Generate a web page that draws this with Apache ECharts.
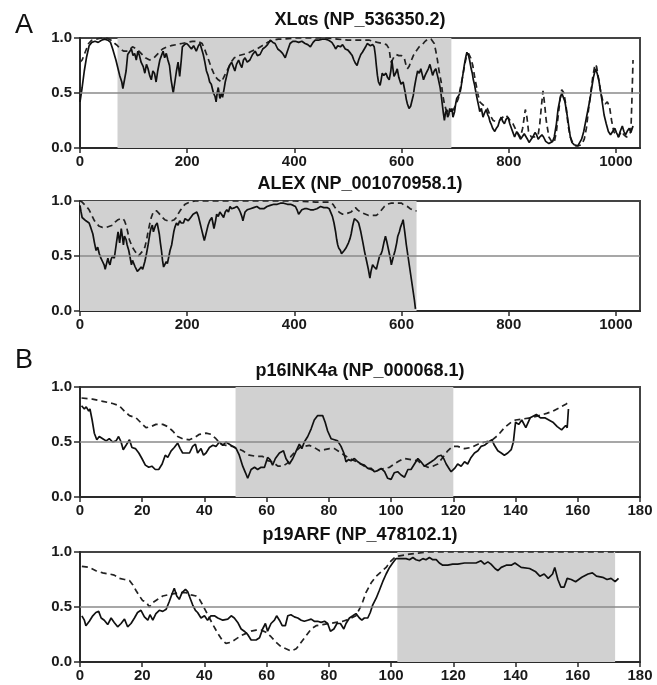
<!DOCTYPE html>
<html>
<head>
<meta charset="utf-8">
<script src="https://cdn.jsdelivr.net/npm/echarts@6/dist/echarts.min.js"></script>
<style>html,body{margin:0;padding:0;background:#fff}#c{width:657px;height:685px}</style>
</head>
<body>
<div id="c"></div>
<script>
// ---------- data ----------
const panelTitles = ['XLαs (NP_536350.2)', 'ALEX (NP_001070958.1)', 'p16INK4a (NP_000068.1)', 'p19ARF (NP_478102.1)'];
const panelLetters = ['A', 'B'];
const xTicksA = [0, 200, 400, 600, 800, 1000];
const xTicksB = [0, 20, 40, 60, 80, 100, 120, 140, 160, 180];
const yTicks = [0, 0.5, 1.0];
const shadeXlas = [70, 693];
const shadeAlex = [0, 628];
const shadeP16 = [50, 120];
const shadeP19 = [102, 172];
const refLine = 0.5;

const xlasSolid = [[0,0.42],[4,0.55],[8,0.70],[12,0.82],[17,0.93],[22,0.96],[28,0.97],[34,0.96],[40,0.98],[46,0.99],[52,0.98],[57,0.96],[61,0.90],[67,0.80],[71,0.72],[74,0.66],[78,0.60],[80,0.54],[83,0.53],[86,0.70],[89,0.85],[93,0.88],[96,0.90],[99,0.84],[102,0.86],[105,0.80],[108,0.88],[111,0.84],[114,0.78],[118,0.74],[121,0.68],[124,0.76],[127,0.72],[130,0.66],[133,0.62],[136,0.70],[139,0.68],[142,0.60],[145,0.70],[149,0.80],[152,0.84],[155,0.88],[158,0.82],[161,0.86],[164,0.80],[167,0.75],[170,0.62],[174,0.50],[177,0.60],[180,0.70],[183,0.78],[186,0.65],[189,0.80],[191,0.92],[195,0.94],[199,0.95],[203,0.93],[208,0.90],[212,0.93],[217,0.88],[221,0.93],[224,0.95],[227,0.90],[230,0.85],[233,0.78],[236,0.70],[239,0.66],[242,0.60],[245,0.58],[249,0.50],[252,0.47],[254,0.42],[256,0.50],[258,0.55],[261,0.45],[264,0.50],[266,0.46],[269,0.54],[271,0.60],[274,0.66],[277,0.72],[280,0.76],[283,0.78],[286,0.74],[289,0.70],[292,0.76],[296,0.80],[299,0.76],[302,0.73],[305,0.80],[308,0.82],[312,0.78],[317,0.80],[322,0.85],[327,0.88],[331,0.84],[336,0.85],[341,0.90],[346,0.92],[350,0.94],[355,0.98],[360,0.96],[364,0.95],[369,0.90],[374,0.88],[378,0.86],[383,0.82],[387,0.88],[392,0.95],[397,0.97],[402,0.97],[408,0.96],[414,0.97],[420,0.95],[425,0.94],[430,0.92],[435,0.96],[439,0.98],[445,0.98],[452,0.99],[458,0.99],[464,0.98],[470,0.96],[474,0.93],[477,0.90],[481,0.93],[486,0.92],[490,0.94],[495,0.90],[500,0.89],[505,0.86],[508,0.84],[511,0.80],[514,0.77],[517,0.75],[520,0.80],[524,0.85],[527,0.87],[530,0.88],[533,0.92],[536,0.95],[539,0.94],[542,0.93],[546,0.94],[549,0.92],[551,0.85],[553,0.75],[555,0.66],[557,0.60],[560,0.57],[562,0.62],[564,0.68],[567,0.66],[571,0.68],[574,0.64],[577,0.62],[580,0.70],[582,0.80],[584,0.72],[586,0.65],[589,0.68],[592,0.72],[595,0.64],[599,0.58],[603,0.60],[605,0.55],[607,0.50],[609,0.44],[611,0.40],[614,0.36],[617,0.38],[619,0.42],[622,0.48],[624,0.55],[627,0.63],[630,0.70],[633,0.68],[636,0.72],[639,0.66],[641,0.62],[644,0.66],[646,0.68],[650,0.72],[653,0.76],[656,0.70],[658,0.66],[661,0.70],[664,0.72],[667,0.66],[669,0.62],[672,0.55],[674,0.48],[676,0.40],[678,0.32],[680,0.25],[682,0.32],[684,0.35],[686,0.28],[688,0.30],[690,0.36],[692,0.33],[694,0.36],[696,0.28],[699,0.33],[701,0.40],[703,0.45],[705,0.44],[707,0.48],[709,0.50],[711,0.55],[714,0.65],[717,0.75],[720,0.83],[722,0.87],[725,0.84],[727,0.80],[730,0.72],[732,0.68],[734,0.62],[736,0.58],[739,0.50],[741,0.45],[744,0.38],[746,0.33],[749,0.36],[752,0.28],[755,0.32],[758,0.35],[761,0.30],[763,0.28],[765,0.24],[767,0.22],[770,0.18],[774,0.15],[777,0.18],[780,0.20],[783,0.25],[786,0.28],[789,0.24],[792,0.22],[795,0.26],[799,0.28],[802,0.22],[805,0.18],[808,0.14],[811,0.10],[815,0.15],[818,0.12],[822,0.08],[825,0.10],[829,0.13],[832,0.12],[835,0.08],[838,0.05],[842,0.08],[845,0.10],[849,0.14],[852,0.12],[855,0.08],[858,0.10],[862,0.12],[865,0.10],[869,0.06],[872,0.05],[875,0.04],[878,0.03],[882,0.06],[885,0.10],[889,0.22],[892,0.35],[896,0.45],[899,0.50],[902,0.46],[905,0.42],[909,0.30],[912,0.20],[915,0.10],[918,0.05],[922,0.03],[925,0.02],[929,0.02],[932,0.03],[936,0.08],[940,0.15],[944,0.25],[948,0.35],[952,0.45],[955,0.55],[958,0.64],[962,0.72],[965,0.68],[968,0.62],[972,0.50],[975,0.40],[978,0.30],[982,0.22],[986,0.15],[990,0.12],[994,0.15],[998,0.18],[1001,0.14],[1005,0.10],[1008,0.15],[1012,0.20],[1015,0.15],[1018,0.12],[1022,0.16],[1025,0.18],[1028,0.14],[1032,0.20]];

const xlasDashed = [[0,0.78],[4,0.80],[8,0.85],[12,0.90],[16,0.95],[22,0.98],[30,0.99],[40,1.0],[50,1.0],[58,0.98],[65,0.95],[70,0.93],[75,0.90],[82,0.88],[90,0.88],[98,0.92],[106,0.90],[114,0.86],[122,0.82],[130,0.80],[138,0.82],[146,0.86],[154,0.90],[162,0.92],[170,0.93],[180,0.94],[190,0.95],[200,0.96],[210,0.97],[220,0.97],[228,0.95],[234,0.88],[240,0.80],[246,0.72],[252,0.65],[258,0.62],[264,0.60],[270,0.66],[276,0.72],[282,0.78],[288,0.82],[296,0.84],[304,0.85],[312,0.86],[320,0.88],[330,0.90],[340,0.93],[350,0.96],[360,0.98],[370,0.99],[380,0.99],[400,1.0],[420,1.0],[440,1.0],[460,1.0],[480,0.99],[500,0.98],[520,0.98],[540,0.98],[555,0.96],[565,0.95],[572,0.94],[577,0.90],[580,0.78],[583,0.80],[586,0.83],[590,0.85],[595,0.84],[600,0.84],[605,0.82],[608,0.76],[611,0.72],[614,0.74],[617,0.78],[622,0.84],[627,0.88],[633,0.92],[639,0.94],[644,0.97],[649,0.99],[655,0.99],[658,0.98],[661,0.95],[664,0.88],[667,0.80],[670,0.70],[674,0.60],[677,0.48],[680,0.40],[683,0.35],[687,0.33],[692,0.33],[697,0.35],[702,0.40],[706,0.45],[710,0.55],[714,0.65],[718,0.76],[721,0.83],[725,0.86],[729,0.82],[733,0.75],[736,0.66],[739,0.58],[743,0.48],[746,0.42],[750,0.40],[755,0.38],[760,0.36],[765,0.30],[771,0.25],[777,0.24],[783,0.25],[789,0.28],[795,0.30],[801,0.26],[808,0.22],[815,0.15],[822,0.10],[826,0.18],[829,0.28],[831,0.35],[834,0.28],[837,0.15],[842,0.10],[848,0.10],[855,0.12],[858,0.22],[861,0.38],[864,0.52],[867,0.40],[870,0.25],[875,0.10],[880,0.06],[885,0.05],[889,0.15],[893,0.32],[896,0.45],[899,0.53],[903,0.50],[907,0.38],[911,0.20],[915,0.10],[920,0.04],[925,0.02],[930,0.02],[936,0.03],[941,0.08],[945,0.18],[949,0.35],[953,0.50],[957,0.65],[961,0.76],[964,0.74],[968,0.62],[972,0.50],[976,0.42],[980,0.40],[984,0.42],[988,0.38],[992,0.25],[996,0.15],[1000,0.12],[1005,0.10],[1010,0.15],[1015,0.12],[1020,0.10],[1025,0.12],[1028,0.15],[1030,0.45],[1032,0.80]];

const alexSolid = [[0,0.96],[2,0.90],[4,0.85],[7,0.84],[11,0.82],[14,0.83],[17,0.80],[20,0.76],[24,0.70],[27,0.62],[30,0.55],[33,0.58],[36,0.52],[39,0.48],[42,0.45],[45,0.42],[47,0.38],[50,0.44],[52,0.48],[54,0.44],[56,0.42],[58,0.47],[61,0.50],[64,0.48],[66,0.55],[68,0.62],[71,0.72],[74,0.62],[77,0.75],[79,0.68],[81,0.60],[83,0.68],[86,0.65],[88,0.60],[91,0.55],[93,0.50],[96,0.42],[98,0.46],[100,0.45],[103,0.40],[105,0.38],[107,0.36],[109,0.35],[111,0.38],[114,0.40],[117,0.38],[121,0.45],[124,0.52],[127,0.60],[129,0.66],[131,0.72],[133,0.76],[135,0.78],[137,0.72],[139,0.75],[141,0.78],[144,0.80],[146,0.75],[148,0.70],[150,0.62],[152,0.55],[154,0.46],[156,0.40],[158,0.42],[161,0.45],[163,0.43],[166,0.50],[168,0.55],[171,0.60],[173,0.66],[175,0.72],[177,0.76],[180,0.80],[183,0.78],[186,0.82],[189,0.80],[193,0.80],[196,0.84],[199,0.85],[202,0.82],[205,0.83],[208,0.86],[211,0.88],[214,0.87],[218,0.90],[221,0.86],[224,0.80],[227,0.74],[230,0.68],[232,0.64],[234,0.68],[237,0.74],[239,0.78],[242,0.82],[246,0.85],[248,0.80],[250,0.75],[253,0.82],[255,0.88],[258,0.86],[261,0.90],[264,0.88],[268,0.85],[271,0.90],[274,0.92],[277,0.90],[280,0.95],[283,0.93],[286,0.92],[289,0.94],[293,0.95],[296,0.93],[299,0.90],[302,0.86],[304,0.82],[306,0.86],[308,0.90],[312,0.92],[318,0.93],[324,0.94],[330,0.95],[336,0.93],[343,0.93],[349,0.95],[355,0.96],[362,0.97],[368,0.97],[374,0.98],[380,0.98],[387,0.97],[393,0.97],[398,0.96],[402,0.95],[405,0.92],[408,0.88],[411,0.90],[414,0.92],[419,0.93],[424,0.93],[430,0.92],[436,0.92],[442,0.93],[449,0.95],[455,0.94],[461,0.94],[465,0.93],[468,0.92],[471,0.86],[474,0.80],[477,0.72],[479,0.65],[481,0.60],[483,0.57],[486,0.55],[488,0.52],[490,0.52],[493,0.55],[496,0.57],[498,0.58],[501,0.62],[504,0.66],[506,0.70],[509,0.78],[512,0.84],[514,0.85],[517,0.82],[520,0.80],[524,0.72],[528,0.62],[531,0.54],[535,0.45],[538,0.38],[541,0.30],[543,0.36],[546,0.42],[549,0.40],[553,0.38],[556,0.44],[559,0.50],[562,0.52],[564,0.55],[567,0.62],[570,0.68],[573,0.62],[576,0.55],[579,0.48],[581,0.42],[584,0.48],[588,0.55],[591,0.62],[593,0.68],[596,0.72],[598,0.76],[601,0.80],[603,0.83],[606,0.72],[609,0.60],[612,0.50],[615,0.40],[618,0.30],[621,0.20],[624,0.10],[626,0.02]];

const alexDashed = [[0,1.0],[4,0.99],[8,0.97],[12,0.95],[17,0.92],[22,0.87],[27,0.82],[32,0.79],[36,0.77],[42,0.76],[49,0.76],[55,0.77],[61,0.78],[66,0.81],[71,0.83],[76,0.84],[80,0.84],[83,0.82],[86,0.78],[89,0.72],[92,0.65],[96,0.60],[99,0.57],[103,0.54],[106,0.52],[109,0.50],[112,0.51],[116,0.54],[121,0.58],[124,0.64],[127,0.72],[130,0.79],[133,0.85],[136,0.89],[139,0.91],[143,0.91],[147,0.89],[152,0.86],[158,0.83],[164,0.82],[171,0.82],[176,0.83],[180,0.85],[184,0.89],[188,0.92],[192,0.95],[196,0.97],[200,0.98],[205,0.99],[215,1.0],[240,1.0],[280,1.0],[320,1.0],[360,1.0],[400,1.0],[440,0.99],[460,0.99],[467,0.99],[472,0.97],[476,0.94],[481,0.91],[486,0.89],[490,0.88],[495,0.88],[500,0.89],[506,0.90],[510,0.92],[514,0.94],[518,0.92],[523,0.90],[528,0.89],[533,0.88],[538,0.87],[544,0.87],[549,0.87],[553,0.87],[558,0.89],[563,0.92],[568,0.95],[573,0.97],[580,0.98],[588,0.98],[595,0.98],[600,0.98],[605,0.96],[611,0.95],[616,0.93],[620,0.92],[624,0.91],[628,0.91]];

const p16Solid = [[0.5,0.83],[1.4,0.80],[2,0.82],[2.8,0.78],[3.2,0.80],[3.9,0.70],[4.6,0.58],[5.4,0.52],[6.2,0.55],[7.3,0.53],[8.4,0.51],[9.4,0.53],[10.5,0.50],[11.6,0.51],[12.4,0.55],[13.2,0.50],[13.9,0.43],[14.8,0.47],[15.9,0.52],[16.7,0.45],[17.8,0.44],[18.9,0.40],[19.9,0.35],[21,0.29],[22.1,0.27],[23.1,0.28],[24.2,0.25],[25.3,0.25],[26.4,0.30],[27.4,0.38],[28.2,0.36],[29.3,0.42],[30.3,0.45],[31.4,0.49],[32.2,0.44],[33,0.40],[34.1,0.40],[35.2,0.40],[36.2,0.46],[37.1,0.48],[37.8,0.40],[38.9,0.44],[39.7,0.38],[40.5,0.40],[41.6,0.45],[42.7,0.47],[43.7,0.46],[44.8,0.50],[45.9,0.47],[46.9,0.50],[48,0.48],[49.1,0.46],[50.2,0.44],[51.2,0.38],[52.3,0.28],[53.2,0.22],[53.9,0.17],[55,0.25],[56.1,0.27],[57.1,0.25],[58.2,0.27],[59.3,0.27],[60.3,0.36],[61.1,0.34],[61.9,0.29],[62.8,0.35],[64.1,0.40],[65.4,0.42],[66.2,0.35],[67.3,0.30],[68.4,0.35],[69.5,0.42],[70.5,0.48],[71.3,0.44],[72.1,0.50],[73.2,0.55],[74.3,0.62],[75.3,0.70],[76.4,0.74],[78,0.74],[78.8,0.68],[79.6,0.60],[80.7,0.53],[81.8,0.52],[82.8,0.51],[83.9,0.46],[84.8,0.40],[85.5,0.32],[86.3,0.34],[87.1,0.33],[88.2,0.35],[89.3,0.32],[90.3,0.30],[91.4,0.29],[92.5,0.26],[93.6,0.26],[94.6,0.23],[95.7,0.24],[96.8,0.26],[97.9,0.23],[98.9,0.17],[100,0.16],[101,0.22],[102.1,0.23],[103.2,0.20],[104.3,0.18],[105.4,0.25],[106.4,0.25],[107.5,0.30],[108.6,0.35],[109.6,0.32],[110.7,0.28],[111.8,0.30],[112.9,0.32],[113.9,0.34],[115,0.37],[116.1,0.38],[116.9,0.35],[117.7,0.30],[118.8,0.25],[119.3,0.23],[120.4,0.26],[121.4,0.30],[122.5,0.28],[123.6,0.32],[124.6,0.30],[125.7,0.36],[126.8,0.40],[127.9,0.42],[128.9,0.46],[130,0.47],[131.3,0.50],[132.4,0.52],[133.2,0.47],[134.3,0.42],[135.4,0.40],[136.4,0.38],[137.5,0.40],[138.6,0.43],[139.3,0.50],[140,0.68],[141,0.66],[142,0.70],[143.3,0.63],[144.7,0.72],[146.7,0.75],[148,0.72],[149.4,0.72],[150.7,0.70],[152,0.68],[153.4,0.64],[154.8,0.61],[156.1,0.65],[156.6,0.63],[157,0.80]];

const p16Dashed = [[0.5,0.90],[4,0.89],[7.3,0.87],[10.5,0.85],[12.6,0.83],[14.3,0.78],[15.9,0.74],[18,0.72],[20.1,0.66],[21.2,0.63],[22.8,0.64],[24.4,0.66],[26.6,0.66],[28.2,0.64],[29.8,0.60],[31.4,0.55],[33,0.53],[35.2,0.52],[36.8,0.54],[38.4,0.57],[40.5,0.58],[42.1,0.57],[43.7,0.53],[45.3,0.48],[46.9,0.47],[49.1,0.46],[50.7,0.44],[52.3,0.42],[54.4,0.38],[56.6,0.37],[58.7,0.37],[60.3,0.33],[61.9,0.32],[63.6,0.28],[65.2,0.28],[66.8,0.31],[67.8,0.37],[69.5,0.42],[71.1,0.46],[72.1,0.46],[73.7,0.47],[75.3,0.45],[77,0.42],[78.6,0.43],[80.2,0.44],[81.8,0.44],[83.4,0.41],[85,0.38],[86.6,0.35],[88.2,0.33],[90.3,0.30],[92.5,0.26],[94.6,0.24],[96.2,0.25],[97.9,0.26],[99.5,0.27],[101,0.30],[102.7,0.33],[104.3,0.35],[106.4,0.34],[108.6,0.33],[110.2,0.29],[111.8,0.27],[113.4,0.28],[115,0.30],[116.6,0.36],[118.2,0.42],[119.8,0.46],[121.4,0.46],[123.6,0.44],[125.7,0.45],[127.9,0.48],[130,0.50],[132.1,0.51],[134.3,0.56],[136.4,0.63],[138.6,0.68],[140,0.70],[142.5,0.71],[145,0.72],[147.5,0.74],[150,0.76],[152,0.78],[154,0.81],[156,0.84],[157,0.86]];

const p19Solid = [[0.6,0.42],[1.4,0.38],[1.9,0.33],[3,0.37],[4.1,0.42],[5.1,0.45],[6,0.46],[6.8,0.40],[7.8,0.38],[8.9,0.34],[10,0.40],[11,0.36],[12.1,0.32],[13.2,0.35],[14.3,0.39],[15.3,0.32],[16.4,0.35],[17.5,0.40],[18.5,0.45],[19.6,0.47],[20.7,0.41],[21.8,0.38],[22.5,0.43],[23.4,0.38],[24.4,0.44],[25.5,0.47],[26.6,0.46],[27.7,0.48],[28.7,0.55],[29.6,0.62],[30.3,0.67],[31.1,0.60],[31.9,0.57],[32.8,0.63],[33.9,0.66],[34.6,0.64],[35.4,0.58],[36.2,0.52],[37.1,0.47],[37.8,0.45],[38.9,0.40],[40,0.42],[41,0.38],[42.1,0.42],[43.2,0.42],[44.3,0.40],[45.9,0.38],[47.5,0.39],[48.6,0.42],[49.6,0.40],[50.7,0.36],[51.8,0.30],[52.8,0.28],[53.9,0.25],[55,0.20],[56.6,0.20],[57.7,0.22],[58.7,0.30],[59.6,0.35],[60.3,0.28],[61.4,0.35],[62.5,0.38],[63.2,0.42],[64.1,0.38],[65,0.33],[66,0.33],[66.8,0.42],[67.8,0.43],[68.9,0.41],[70,0.40],[71.1,0.38],[72.1,0.37],[73.2,0.38],[74.3,0.39],[75.3,0.37],[76.4,0.37],[77.5,0.36],[78.6,0.37],[79.6,0.35],[80.5,0.28],[81.6,0.30],[82.6,0.35],[83.7,0.35],[84.8,0.30],[85.5,0.35],[86.6,0.40],[87.7,0.42],[88.7,0.44],[89.8,0.40],[90.6,0.38],[91.4,0.40],[92.5,0.40],[93.3,0.45],[94.1,0.52],[95.2,0.58],[96.2,0.65],[97.3,0.73],[98.4,0.80],[99.5,0.86],[100.5,0.90],[101.6,0.94],[103.2,0.94],[104.8,0.94],[105.9,0.93],[107,0.95],[108,0.93],[109.1,0.92],[110.2,0.94],[111.2,0.93],[112.3,0.95],[113.4,0.93],[114.5,0.93],[115.5,0.90],[116.6,0.88],[118.2,0.88],[119.8,0.89],[121.4,0.89],[123.6,0.90],[125.7,0.90],[127.3,0.90],[128.9,0.92],[130,0.89],[131.1,0.91],[132.1,0.89],[133.4,0.85],[134.3,0.83],[135.4,0.86],[137,0.88],[138.6,0.88],[139.8,0.90],[141.8,0.86],[144.5,0.85],[146.5,0.82],[147.8,0.78],[149.2,0.80],[150.5,0.76],[151.9,0.80],[152.6,0.86],[153.6,0.75],[154.6,0.68],[155.6,0.68],[156.6,0.76],[157.9,0.75],[159.3,0.73],[161.3,0.77],[163.3,0.80],[164.7,0.81],[166,0.78],[168,0.77],[169.4,0.75],[170.7,0.76],[172,0.73],[173.1,0.76]];

const p19Dashed = [[0.6,0.87],[3,0.86],[5.1,0.83],[7.3,0.81],[9.4,0.80],[11,0.79],[12.6,0.76],[14.3,0.75],[15.9,0.74],[17,0.70],[18,0.65],[19.1,0.60],[20.1,0.56],[21.4,0.54],[22.3,0.50],[23.4,0.54],[25,0.57],[26.6,0.60],[28.2,0.61],[29.8,0.62],[31.9,0.63],[34.1,0.63],[35.7,0.61],[37.3,0.60],[38.4,0.57],[39.4,0.52],[40.5,0.46],[41.6,0.40],[42.9,0.33],[44.3,0.26],[45.7,0.20],[46.9,0.17],[48.6,0.18],[50.2,0.21],[51.8,0.24],[53.4,0.26],[55,0.28],[56.6,0.29],[58.2,0.29],[59.8,0.27],[61.4,0.23],[63,0.18],[64.6,0.14],[66.2,0.12],[67.8,0.10],[69.5,0.12],[71.1,0.18],[72.7,0.24],[74.3,0.30],[75.9,0.33],[78,0.34],[80.2,0.35],[82.3,0.36],[84.5,0.37],[86.6,0.39],[88.7,0.42],[89.8,0.48],[90.9,0.55],[91.9,0.63],[93.6,0.72],[95.2,0.78],[96.8,0.82],[98.4,0.86],[100,0.92],[101.6,0.96],[103.7,0.97],[105.9,0.98],[108.6,0.99],[112,1.0],[120,1.0],[130,1.0],[140,1.0],[150,1.0],[160,1.0],[173,1.0]];

// ---------- chart ----------
const FONT = '"Liberation Sans", Arial, sans-serif';
const plotLeft = 80, plotRight = 17, plotH = 110;
const gridTops = [38, 201, 387, 552];
const xMaxes = [1045, 1045, 180, 180];
const xTickSets = [xTicksA, xTicksA, xTicksB, xTicksB];
const shades = [shadeXlas, shadeAlex, shadeP16, shadeP19];
const solids = [xlasSolid, alexSolid, p16Solid, p19Solid];
const dasheds = [xlasDashed, alexDashed, p16Dashed, p19Dashed];

const grid = gridTops.map(t => ({left: plotLeft, right: plotRight, top: t, height: plotH,
  show: true, borderColor: '#444', borderWidth: 2, backgroundColor: 'transparent'}));

const axisLbl = {color: '#1a1a1a', fontFamily: FONT, fontWeight: 'bold', fontSize: 15};

const xAxis = gridTops.map((t, i) => ({
  type: 'value', gridIndex: i, min: 0, max: xMaxes[i],
  axisLine: {show: true, onZero: false, lineStyle: {color: '#2a2a2a', width: 2}},
  axisTick: {show: true, length: 5, lineStyle: {color: '#2a2a2a', width: 1.5}, customValues: xTickSets[i]},
  axisLabel: Object.assign({margin: 6, customValues: xTickSets[i], formatter: v => String(v)}, axisLbl),
  splitLine: {show: false}
}));

const yAxis = gridTops.map((t, i) => ({
  type: 'value', gridIndex: i, min: 0, max: 1, interval: 0.5,
  axisLine: {show: true, lineStyle: {color: '#2a2a2a', width: 2}},
  axisTick: {show: true, length: 6, lineStyle: {color: '#2a2a2a', width: 1.5}},
  axisLabel: Object.assign({margin: 8, formatter: v => v.toFixed(1)}, axisLbl),
  splitLine: {show: false}
}));

const series = [];
gridTops.forEach((t, i) => {
  series.push({
    type: 'line', xAxisIndex: i, yAxisIndex: i, data: [], z: 0, silent: true,
    markArea: {silent: true, itemStyle: {color: '#d1d1d1'},
      data: [[{xAxis: shades[i][0]}, {xAxis: shades[i][1]}]]},
    markLine: {silent: true, symbol: 'none', label: {show: false},
      lineStyle: {color: '#8a8a8a', width: 1.5, type: 'solid'},
      data: [{yAxis: refLine}]}
  });
  series.push({
    type: 'line', xAxisIndex: i, yAxisIndex: i, data: dasheds[i], z: 3,
    showSymbol: false, symbol: 'none', silent: true,
    lineStyle: {color: '#222', width: 1.7, type: [6, 4]}
  });
  series.push({
    type: 'line', xAxisIndex: i, yAxisIndex: i, data: solids[i], z: 4,
    showSymbol: false, symbol: 'none', silent: true,
    lineStyle: {color: '#111', width: 1.7}
  });
});

const graphic = [];
const titleCenters = [20, 184, 371, 535];
panelTitles.forEach((txt, i) => {
  graphic.push({type: 'text', x: 360, y: titleCenters[i],
    style: {text: txt, x: 0, y: 0, textAlign: 'center', textVerticalAlign: 'middle',
      font: 'bold 18px ' + FONT, fill: '#111'}});
});
graphic.push({type: 'text', x: 15, y: 26, style: {text: panelLetters[0], textAlign: 'left', textVerticalAlign: 'middle', font: '27px ' + FONT, fill: '#111'}});
graphic.push({type: 'text', x: 15, y: 361, style: {text: panelLetters[1], textAlign: 'left', textVerticalAlign: 'middle', font: '27px ' + FONT, fill: '#111'}});

const chart = echarts.init(document.getElementById('c'), null, {renderer: 'canvas'});
chart.setOption({animation: false, backgroundColor: '#fff', grid, xAxis, yAxis, series, graphic});
</script>
</body>
</html>
